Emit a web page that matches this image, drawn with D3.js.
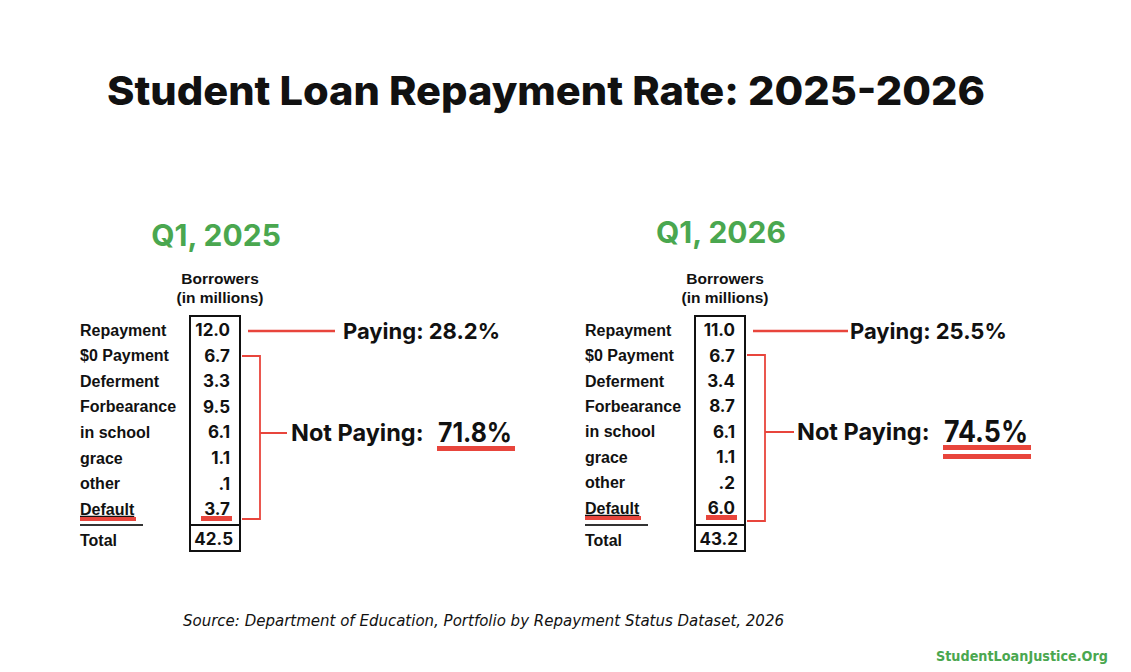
<!DOCTYPE html>
<html>
<head>
<meta charset="utf-8">
<script src="https://cdn.jsdelivr.net/npm/d3@7"></script>
<style>
  html, body { margin: 0; padding: 0; background: #fff; }
  svg { display: block; }
</style>
</head>
<body>
<div id="chart"></div>
<script>
// Student Loan Repayment Rate: 2025-2026 — two repayment-status tables
const categories = ["Repayment", "$0 Payment", "Deferment", "Forbearance", "in school", "grace", "other", "Default"];
const values2025 = ["12.0", "6.7", "3.3", "9.5", "6.1", "1.1", ".1", "3.7"];
const values2026 = ["11.0", "6.7", "3.4", "8.7", "6.1", "1.1", ".2", "6.0"];
const totals = ["42.5", "43.2"];
const periods = ["Q1, 2025", "Q1, 2026"];
const payingPct = ["28.2%", "25.5%"];
const notPayingPct = ["71.8%", "74.5%"];

const W = 1131, H = 672;
const RED = "#e8453c", GREEN = "#4aa74f";
const LABEL_FONT = "bold 16px 'Liberation Sans', Arial, sans-serif";
const VALUE_FONT = "700 17px Inter, 'Open Sans', sans-serif";

const svg = d3.select("#chart").append("svg").attr("width", W).attr("height", H);

svg.append("text")
  .attr("x", 107).attr("y", 105)
  .attr("textLength", 878).attr("lengthAdjust", "spacingAndGlyphs")
  .style("font", "800 40px Inter, 'Open Sans', sans-serif")
  .attr("fill", "#111")
  .text("Student Loan Repayment Rate: 2025-2026");

// per-panel layout (pixel offsets of the two tables)
const panels = [
  { dx: 0,   values: values2025, rowEnd: 509, notPayingSize: 27, doubleLine: false,
    payLineEnd: 335, payText: 343, tickEnd: 287, npText: 291, pctX: 438, pctW: 76, bracketTop: 356, bracketBot: 519, midY: 433 },
  { dx: 505, values: values2026, rowEnd: 508, notPayingSize: 30, doubleLine: true,
    payLineEnd: 848, payText: 850, tickEnd: 794, npText: 797, pctX: 944, pctW: 86, bracketTop: 355, bracketBot: 521, midY: 432 }
];

panels.forEach((p, i) => {
  const g = svg.append("g");
  const x0 = 80 + p.dx;           // row label x
  const boxL = 190 + p.dx, boxR = 240 + p.dx;
  const y = d3.scalePoint().domain(categories).range([330, p.rowEnd]);

  g.append("text")
    .attr("x", 216 + p.dx).attr("y", i === 0 ? 246 : 243)
    .attr("text-anchor", "middle")
    .style("font", "700 30px Inter, 'Open Sans', sans-serif")
    .attr("fill", GREEN)
    .text(periods[i]);

  g.selectAll(".hdr").data(["Borrowers", "(in millions)"]).join("text")
    .attr("x", 220 + p.dx).attr("y", (d, k) => 284 + k * 19)
    .attr("text-anchor", "middle")
    .style("font", "bold 15.5px 'Liberation Sans', Arial, sans-serif")
    .attr("fill", "#111")
    .text(d => d);

  // box around the values column
  g.append("rect")
    .attr("x", boxL).attr("y", 316).attr("width", boxR - boxL).attr("height", 235)
    .attr("fill", "none").attr("stroke", "#111").attr("stroke-width", 2);
  g.append("line")
    .attr("x1", boxL).attr("x2", boxR).attr("y1", 525).attr("y2", 525)
    .attr("stroke", "#111").attr("stroke-width", 2);
  g.append("line")
    .attr("x1", x0).attr("x2", x0 + 63).attr("y1", 525).attr("y2", 525)
    .attr("stroke", "#333").attr("stroke-width", 2);

  g.selectAll(".lab").data(categories).join("text")
    .attr("x", x0).attr("y", d => y(d)).attr("dy", "0.36em")
    .style("font", LABEL_FONT)
    .attr("fill", "#111")
    .attr("text-decoration", d => d === "Default" ? "underline" : null)
    .text(d => d);

  g.selectAll(".val").data(p.values).join("text")
    .attr("x", boxR - 10).attr("y", (d, k) => y(categories[k])).attr("dy", "0.36em")
    .attr("text-anchor", "end")
    .style("font", VALUE_FONT)
    .attr("fill", "#111")
    .text(d => d);

  g.append("text")
    .attr("x", x0).attr("y", 540).attr("dy", "0.36em")
    .style("font", LABEL_FONT)
    .attr("fill", "#111").text("Total");
  g.append("text")
    .attr("x", boxR - 7).attr("y", 539).attr("dy", "0.36em")
    .attr("text-anchor", "end")
    .style("font", VALUE_FONT)
    .attr("fill", "#111").text(totals[i]);

  // red underline marks under Default
  const yDef = y("Default");
  g.append("rect").attr("x", x0).attr("y", yDef + 8).attr("width", 56).attr("height", 4).attr("fill", RED);
  g.append("rect").attr("x", boxL + 11).attr("y", yDef + 7).attr("width", 31).attr("height", 5).attr("fill", RED);

  // Paying connector
  const yRep = y("Repayment") + 1;
  g.append("line")
    .attr("x1", boxR + 8).attr("x2", p.payLineEnd).attr("y1", yRep).attr("y2", yRep)
    .attr("stroke", RED).attr("stroke-width", 2.5);
  g.append("text")
    .attr("x", p.payText).attr("y", yRep).attr("dy", "0.36em")
    .style("font", "700 22px Inter, 'Open Sans', sans-serif")
    .attr("fill", "#111")
    .text("Paying: " + payingPct[i]);

  // Not Paying bracket
  const bx = 260 + p.dx;
  g.append("path")
    .attr("d", `M${boxR + 2},${p.bracketTop}H${bx}V${p.bracketBot}H${boxR + 2}M${bx},${p.midY}H${p.tickEnd}`)
    .attr("fill", "none").attr("stroke", RED).attr("stroke-width", 1.8);
  g.append("text")
    .attr("x", p.npText).attr("y", p.midY).attr("dy", "0.36em")
    .style("font", "700 23.5px Inter, 'Open Sans', sans-serif")
    .attr("fill", "#111")
    .text("Not Paying:");
  g.append("text")
    .attr("x", p.pctX).attr("y", p.midY - 1).attr("dy", "0.36em")
    .attr("textLength", p.pctW - 2).attr("lengthAdjust", "spacingAndGlyphs")
    .style("font", `700 ${p.notPayingSize}px Inter, 'Open Sans', sans-serif`)
    .attr("fill", "#111")
    .text(notPayingPct[i]);
  const ul = p.doubleLine ? [445, 454] : [446];
  g.selectAll(".ul").data(ul).join("rect")
    .attr("x", p.pctX - 1).attr("y", d => d).attr("width", p.pctW + 2).attr("height", 5)
    .attr("fill", RED);
});

svg.append("text")
  .attr("x", 183).attr("y", 626)
  .attr("textLength", 601).attr("lengthAdjust", "spacingAndGlyphs")
  .style("font", "italic 15px 'DejaVu Sans', sans-serif")
  .attr("fill", "#111")
  .text("Source: Department of Education, Portfolio by Repayment Status Dataset, 2026");

svg.append("text")
  .attr("x", 936).attr("y", 661)
  .attr("textLength", 172).attr("lengthAdjust", "spacingAndGlyphs")
  .style("font", "bold 14px 'DejaVu Sans', sans-serif")
  .attr("fill", GREEN)
  .text("StudentLoanJustice.Org");
</script>
</body>
</html>
